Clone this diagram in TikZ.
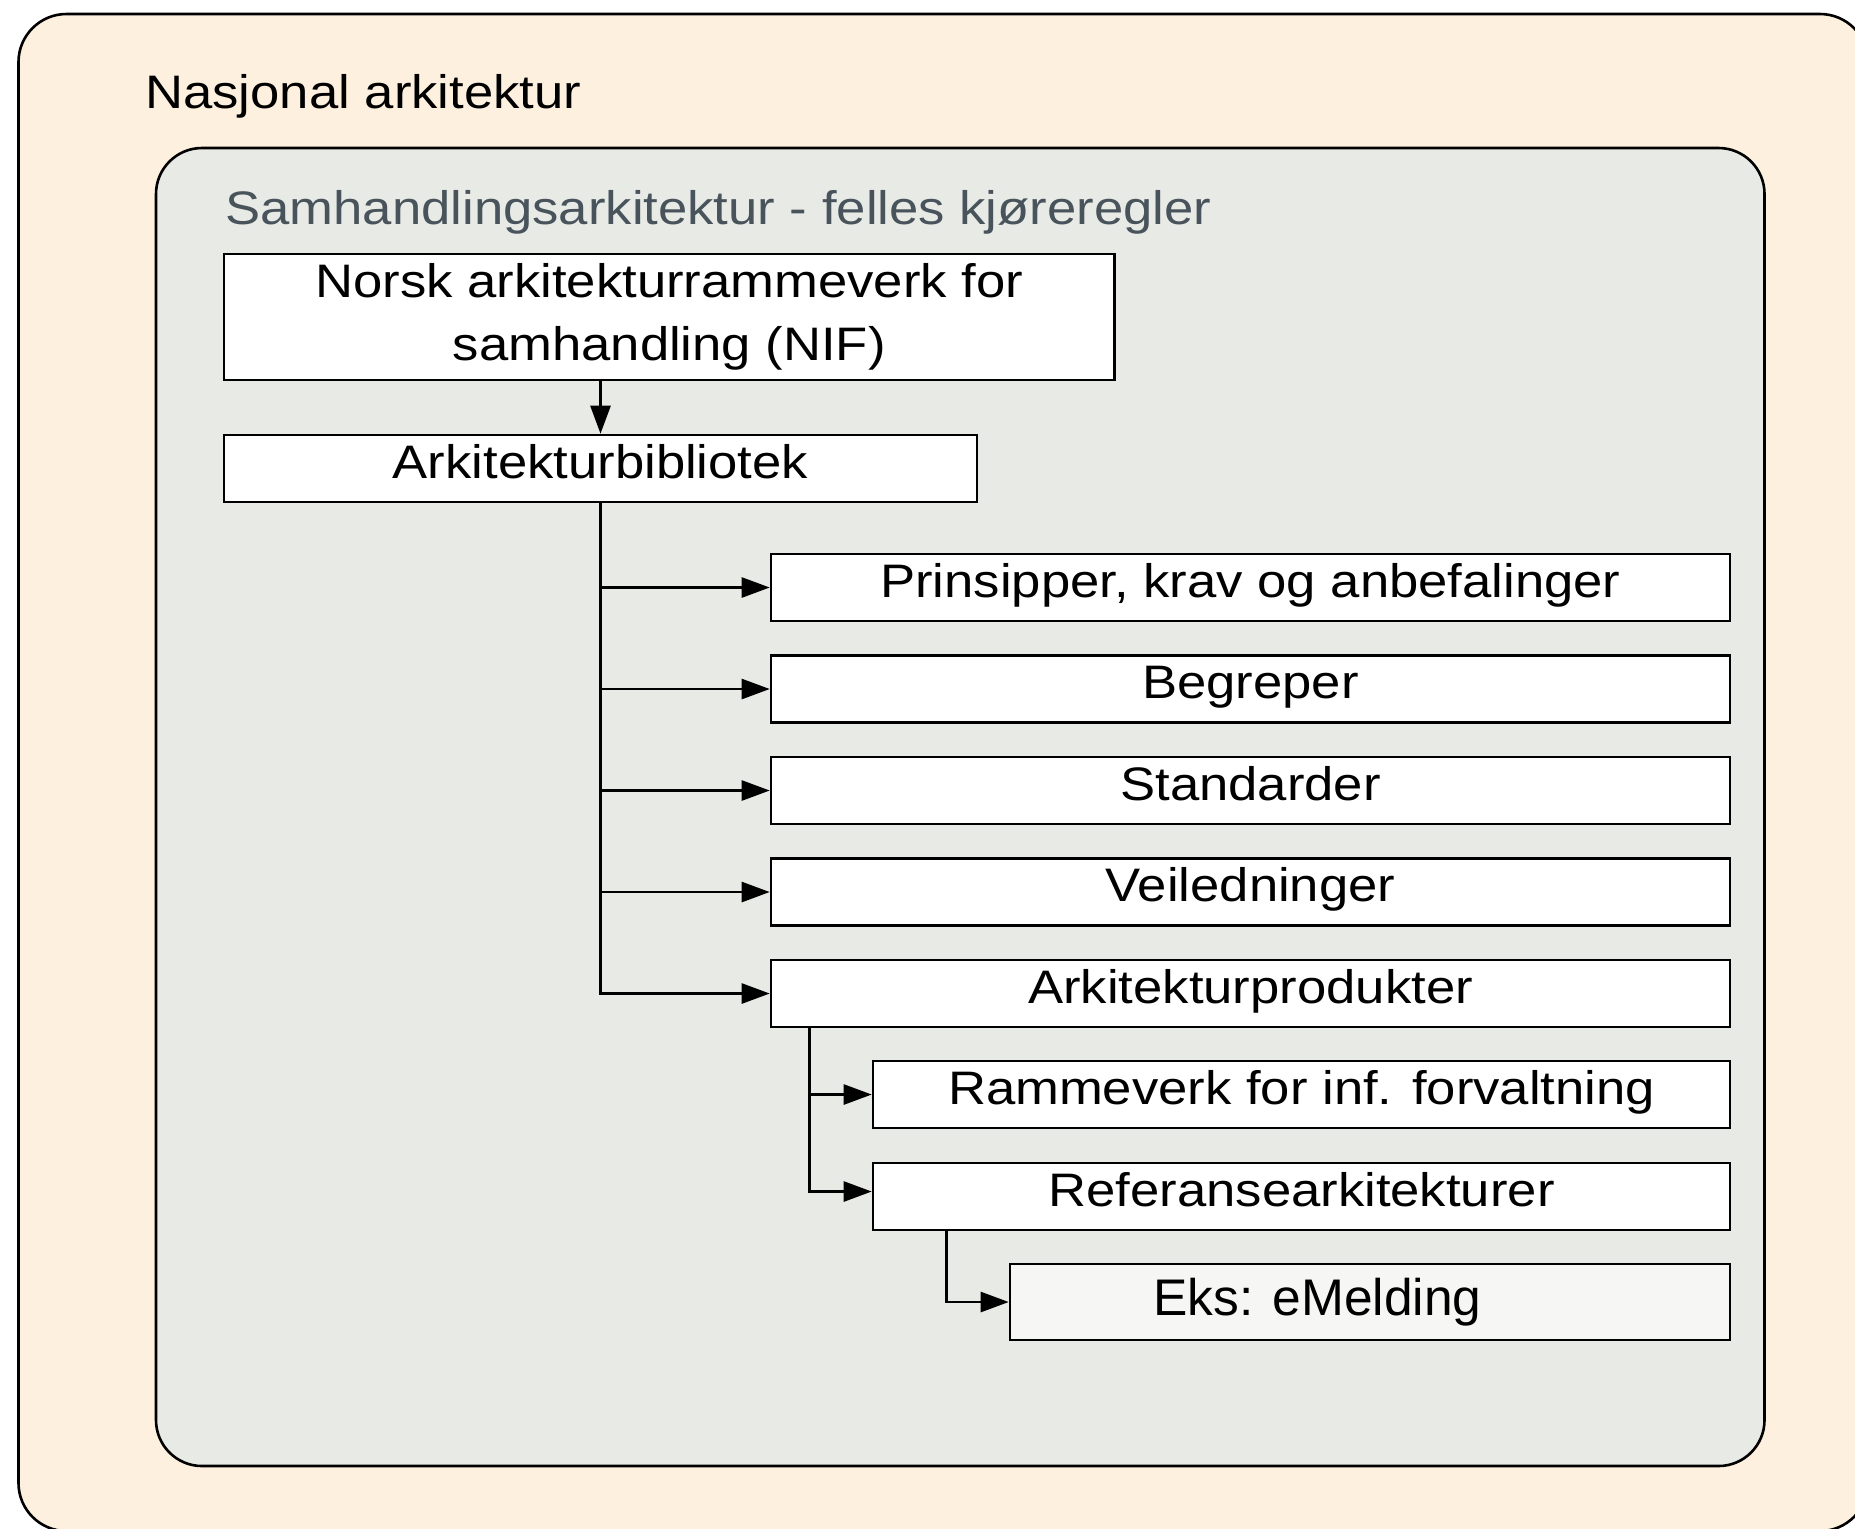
\documentclass[tikz,border=0pt]{standalone}
\usepackage{fontspec}
\setmainfont{Liberation Sans}[FakeStretch=1.12]
\newfontfamily\eksfont{Liberation Sans}
\usetikzlibrary{arrows.meta}
\definecolor{peach}{HTML}{FDF0DF}
\definecolor{panel}{HTML}{E8EAE5}
\definecolor{titlegray}{HTML}{48535B}
\definecolor{eksfill}{HTML}{F6F6F4}
\tikzset{
  outerbox/.style={draw=black, line width=1.3pt, fill=peach, rounded corners=24pt},
  innerbox/.style={draw=black, line width=1.3pt, fill=panel, rounded corners=23pt},
  libbox/.style={draw=black, line width=1.3pt, fill=white, inner xsep=0pt, inner ysep=0pt,
    minimum height=33.5pt, text height=21.5pt, text depth=12pt, font=\fontsize{23.5pt}{31.5pt}\selectfont},
  titletext/.style={anchor=base west, inner sep=0pt, font=\fontsize{23.5pt}{31.5pt}\selectfont},
  conn/.style={line width=1.3pt, -{Triangle[length=14pt,width=10pt]}},
  plainconn/.style={line width=1.3pt}
}
\begin{document}
\begin{tikzpicture}[x=0.5pt,y=-0.5pt]
\useasboundingbox (0,0) rectangle (1855,1528);
\draw[outerbox] (18.5,14) rectangle (1868,1531);
\node[titletext] (nasj) at (145,108.5) {Nasjonal arkitektur};
\draw[innerbox] (156,148) rectangle (1764.5,1466);
\node[titletext, text=titlegray] (samh) at (225,224) {Samhandlingsarkitektur - felles kjøreregler};

\node[libbox, minimum width=445.25pt, minimum height=63pt, text height=, text depth=, align=center] (nif) at (669.25,317)
  {Norsk arkitekturrammeverk for\\samhandling (NIF)};
\node[libbox, minimum width=376.5pt] (ark) at (600.5,468.5) {Arkitekturbibliotek};

\node[libbox, minimum width=479.5pt] (prin) at (1250.5,587.5) {Prinsipper, krav og anbefalinger};
\node[libbox, minimum width=479.5pt] (beg) at (1250.5,689) {Begreper};
\node[libbox, minimum width=479.5pt] (std) at (1250.5,790.5) {Standarder};
\node[libbox, minimum width=479.5pt] (veil) at (1250.5,892) {Veiledninger};
\node[libbox, minimum width=479.5pt] (prod) at (1250.5,993.5) {Arkitekturprodukter};

\node[libbox, minimum width=428.5pt] (ramme) at (1301.5,1094.5) {Rammeverk for inf. forvaltning};
\node[libbox, minimum width=428.5pt] (ref) at (1301.5,1196.5) {Referansearkitekturer};

\node[libbox, fill=eksfill, minimum width=360pt, minimum height=38pt, text height=, text depth=] (eks) at (1370,1302) {};
\node[anchor=base west, inner sep=0pt, font=\eksfont\fontsize{25.75pt}{30pt}\selectfont] (ekstext) at (1153,1315) {Eks: eMelding};

% connectors
\draw[conn] (ark.north |- nif.south) -- (ark.north);
\draw[conn] (ark.south) |- (prod.west);
\draw[conn] (ark.south |- prin.west) -- (prin.west);
\draw[conn] (ark.south |- beg.west) -- (beg.west);
\draw[conn] (ark.south |- std.west) -- (std.west);
\draw[conn] (ark.south |- veil.west) -- (veil.west);

\coordinate (pj) at ([xshift=20pt]prod.south west);
\draw[conn] (pj) |- ([yshift=2.5pt]ref.west);
\draw[conn] (pj |- ramme.west) -- (ramme.west);

\coordinate (rj) at ([xshift=37.5pt]ref.south west);
\draw[conn] (rj) |- (eks.west);
\end{tikzpicture}
\end{document}
